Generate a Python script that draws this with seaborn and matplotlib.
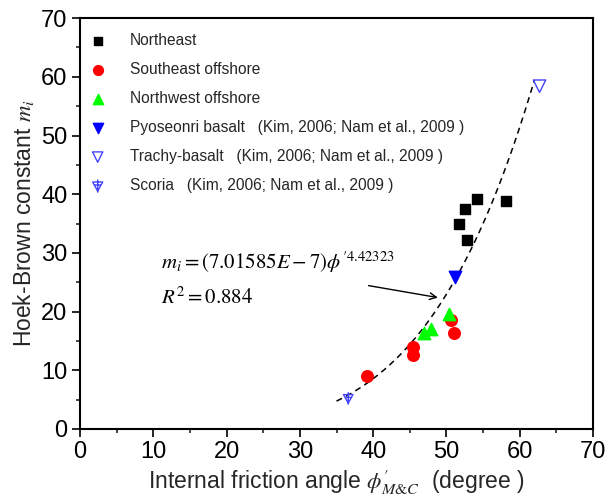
import numpy as np
import pandas as pd
import matplotlib
matplotlib.use("Agg")
import matplotlib.pyplot as plt
from matplotlib.path import Path
import seaborn as sns

# ---- data ----
ne_x = [58.1, 54.2, 52.5, 51.7, 52.8]
ne_y = [38.8, 39.2, 37.5, 34.9, 32.2]
se_x = [39.2, 45.5, 45.5, 50.6, 51.0]
se_y = [9.0, 13.9, 12.6, 18.6, 16.4]
nw_x = [46.9, 47.9, 50.4]
nw_y = [16.4, 17.0, 19.6]
py_x = [51.1]
py_y = [25.9]
tb_x = [62.7]
tb_y = [58.4]
sc_x = [36.6]
sc_y = [5.2]

fit_a = 7.01585e-7
fit_b = 4.42323
fit_range = [35.0, 62.0]

labels = ["Northeast", "Southeast offshore", "Northwest offshore",
          "Pyoseonri basalt   (Kim, 2006; Nam et al., 2009 )",
          "Trachy-basalt   (Kim, 2006; Nam et al., 2009 )",
          "Scoria   (Kim, 2006; Nam et al., 2009 )"]

sns.set_theme(style="ticks")
plt.rcParams['font.family'] = ['Liberation Sans', 'DejaVu Sans']
plt.rcParams['mathtext.fontset'] = 'stix'

fig = plt.figure(figsize=(6.08, 5.04), dpi=100)
ax = fig.add_axes([0.1316, 0.149, 0.8438, 0.815])

# scoria marker path: down triangle with cross
verts = [(-1, 0.8), (1, 0.8), (0, -1), (-1, 0.8),
         (0, 1.3), (0, -1.3),
         (-0.6, 0.2), (0.6, 0.2)]
codes = [Path.MOVETO, Path.LINETO, Path.LINETO, Path.CLOSEPOLY,
         Path.MOVETO, Path.LINETO, Path.MOVETO, Path.LINETO]
scoria_marker = Path(verts, codes)

series = [
    (ne_x, ne_y, "s", "black", "black", 60),
    (se_x, se_y, "o", "#ff0000", "#ff0000", 70),
    (nw_x, nw_y, "^", "#00ff00", "#00ff00", 80),
    (py_x, py_y, "v", "#0000ff", "#0000ff", 80),
    (tb_x, tb_y, "v", "none", "#4444ff", 80),
    (sc_x, sc_y, scoria_marker, "none", "#4444ff", 80),
]
for (x, y, m, fc, ec, s), lab in zip(series, labels):
    df = pd.DataFrame({"x": x, "y": y})
    sns.scatterplot(data=df, x="x", y="y", marker=m, s=s, ax=ax,
                    facecolor=fc, edgecolor=ec, linewidth=1.0, label=lab,
                    zorder=3)

xf = np.linspace(fit_range[0], fit_range[1], 200)
yf = fit_a * xf ** fit_b
sns.lineplot(x=xf, y=yf, ax=ax, color="black", linestyle=(0, (4, 3)),
             linewidth=1.1, zorder=2)

ax.set_xlim(0, 70)
ax.set_ylim(0, 70)
ax.set_xticks(range(0, 71, 10))
ax.set_yticks(range(0, 71, 10))
ax.set_xticks(range(5, 70, 10), minor=True)
ax.set_yticks(range(5, 70, 10), minor=True)
ax.tick_params(which="major", direction="out", length=6, width=1.2,
               labelsize=17, colors="black", pad=3)
ax.tick_params(which="minor", direction="out", length=3, width=1.2)
for sp in ax.spines.values():
    sp.set_linewidth(1.5)
    sp.set_color("black")

ax.set_xlabel(r"Internal friction angle $\phi^{\prime}_{M&C}$  (degree )",
              fontsize=16.5, labelpad=3)
ax.set_ylabel(r"Hoek-Brown constant $m_i$", fontsize=16.5, labelpad=4)

ax.text(11.0, 27.2, r"$m_i=\left(7.01585E-7\right)\phi^{\prime 4.42323}$",
        fontsize=15, color="black")
ax.text(11.0, 21.4, r"$R^2=0.884$", fontsize=15, color="black")
ax.annotate("", xy=(49.2, 22.3), xytext=(39.0, 24.5),
            arrowprops=dict(arrowstyle="->", color="black", lw=1.0))

leg = ax.legend(loc="upper left", frameon=False, fontsize=11.2,
                bbox_to_anchor=(-0.005, 0.99), handletextpad=1.45,
                labelspacing=0.9, borderaxespad=0.3, handlelength=1.2)
for h, sz in zip(leg.legend_handles, [40, 50, 55, 55, 55, 90]):
    h.set_sizes([sz])

fig.savefig("out.png", dpi=100)
